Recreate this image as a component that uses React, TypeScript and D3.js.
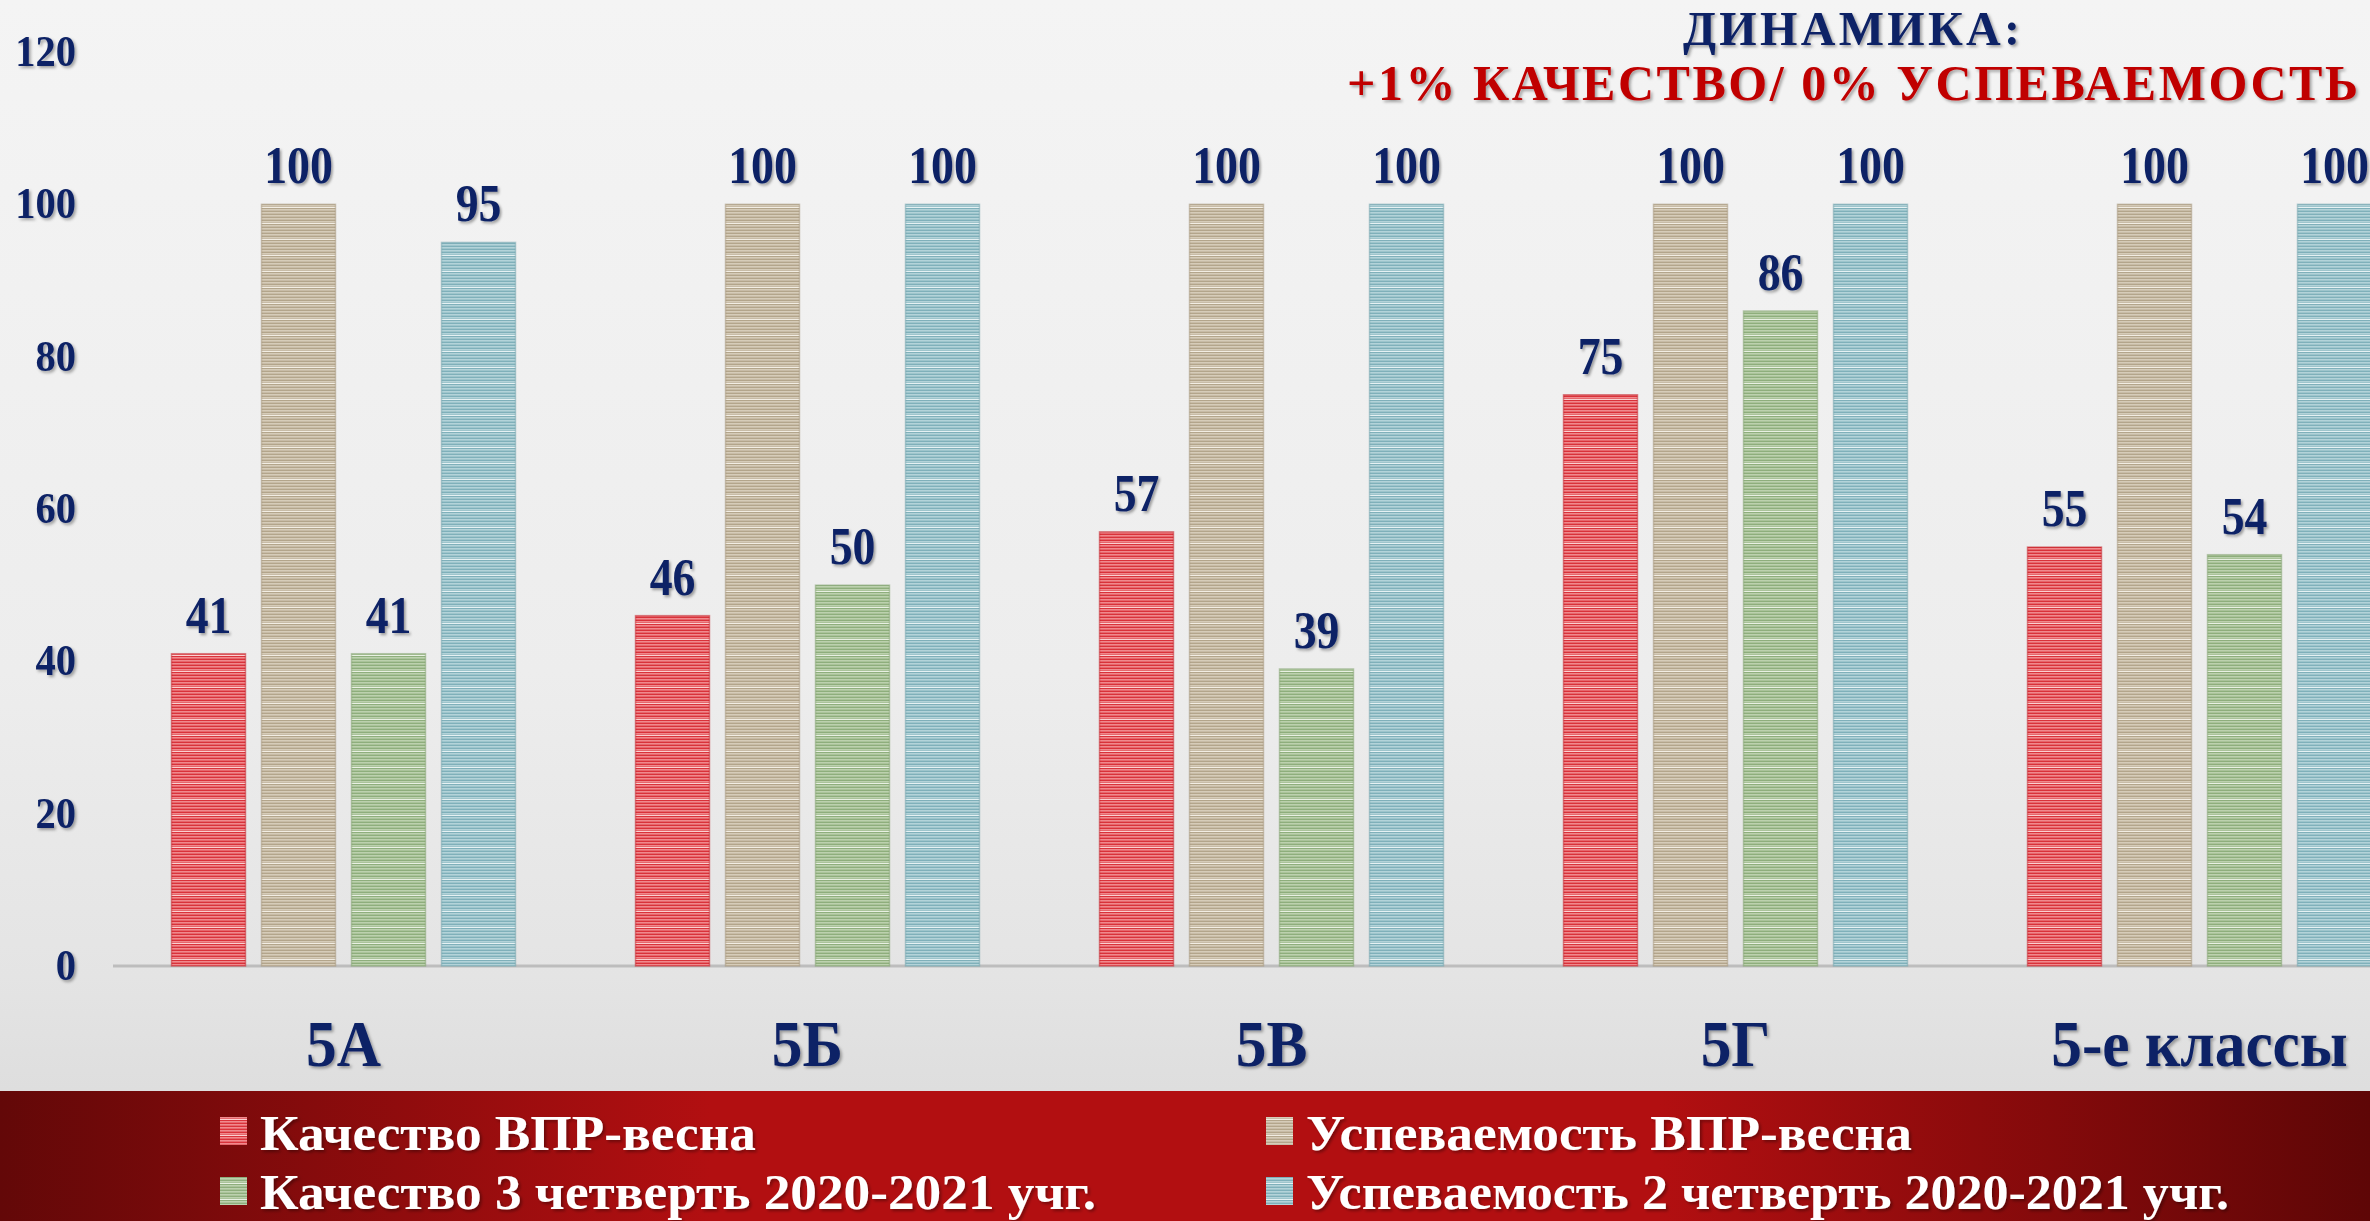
import React from "react";
import * as d3 from "d3";

const categories = ["5А", "5Б", "5В", "5Г", "5-е классы"];
const seriesNames = [
  "Качество ВПР-весна",
  "Успеваемость ВПР-весна",
  "Качество 3 четверть 2020-2021 учг.",
  "Успеваемость 2 четверть 2020-2021 учг.",
];
const kachestvoVPR = [41, 46, 57, 75, 55];
const uspevVPR = [100, 100, 100, 100, 100];
const kachestvo3 = [41, 50, 39, 86, 54];
const uspev2 = [95, 100, 100, 100, 100];
const yTicks = [0, 20, 40, 60, 80, 100, 120];
const titleLine1 = "ДИНАМИКА:";
const titleLine2 = "+1% КАЧЕСТВО/ 0% УСПЕВАЕМОСТЬ";

const seriesValues = [kachestvoVPR, uspevVPR, kachestvo3, uspev2];

// styles
const W = 2370;
const H = 1221;
const NAVY = "#0f2466";
const palettes = [
  { base: "#d9323a", light: "#f0898d", hi: "#fbd0d0", edge: "#c01e26" },
  { base: "#b3a58b", light: "#d6ccb9", hi: "#f2ede3", edge: "#a39478" },
  { base: "#8eae7c", light: "#bcd1ae", hi: "#e8f0e2", edge: "#7f9f6d" },
  { base: "#7fb0ba", light: "#b3d3d9", hi: "#e5f1f3", edge: "#6fa1ac" },
];
// legend layout: [x marker, y marker, text x, baseline, textLength]
const legendLayout = [
  { mx: 220, my: 1117, tx: 260, ty: 1150, tl: 496 },
  { mx: 1266, my: 1117, tx: 1306, ty: 1150, tl: 606 },
  { mx: 220, my: 1177, tx: 260, ty: 1209, tl: 836 },
  { mx: 1266, my: 1177, tx: 1306, ty: 1209, tl: 923 },
];

export default function App() {
  const x0 = d3.scaleBand<string>().domain(categories).range([111.5, 2431.5]).paddingInner(0).paddingOuter(0);
  const x1 = d3
    .scaleBand<number>()
    .domain(d3.range(seriesValues.length))
    .range([60, 404])
    .paddingInner(16 / 90)
    .paddingOuter(0);
  const y = d3.scaleLinear().domain([0, 120]).range([966, 52]);
  const font = "'Liberation Serif', 'Times New Roman', serif";

  return (
    <svg
      width={W}
      height={H}
      viewBox={`0 0 ${W} ${H}`}
      style={{ position: "absolute", left: 0, top: 0, display: "block" }}
      fontFamily={font}
    >
      <defs>
        <linearGradient id="bg" x1="0" y1="0" x2="0" y2="1">
          <stop offset="0" stopColor="#f4f4f4" />
          <stop offset="0.55" stopColor="#ededed" />
          <stop offset="0.8" stopColor="#e4e4e4" />
          <stop offset="1" stopColor="#d7d7d7" />
        </linearGradient>
        <linearGradient id="legendBg" x1="0" y1="0" x2="1" y2="0">
          <stop offset="0" stopColor="#630808" />
          <stop offset="0.3" stopColor="#b20f11" />
          <stop offset="0.7" stopColor="#b20f11" />
          <stop offset="1" stopColor="#5e0606" />
        </linearGradient>
        {palettes.map((p, i) => (
          <pattern key={i} id={`stripe${i}`} patternUnits="userSpaceOnUse" width="16" height="16">
            <rect width="16" height="16" fill={p.base} />
            {[0, 3, 6, 9, 12].map((yy) => (
              <rect key={yy} y={yy + 1} width="16" height="1.6" fill={p.light} />
            ))}
            <rect y={15} width="16" height="1" fill={p.hi} />
          </pattern>
        ))}
        <filter id="shadow" x="-10%" y="-10%" width="130%" height="140%">
          <feDropShadow dx="2" dy="2" stdDeviation="1.5" floodColor="#000" floodOpacity="0.35" />
        </filter>
      </defs>

      <rect width={W} height={H} fill="url(#bg)" />

      {/* title */}
      <text
        x={1683}
        y={45}
        fontSize={48}
        fontWeight="bold"
        fill={NAVY}
        textLength={337}
        lengthAdjust="spacing"
        filter="url(#shadow)"
      >
        {titleLine1}
      </text>
      <text
        x={1347}
        y={100}
        fontSize={50}
        fontWeight="bold"
        fill="#c00000"
        textLength={1011}
        lengthAdjust="spacing"
        filter="url(#shadow)"
      >
        {titleLine2}
      </text>

      {/* y tick labels */}
      {yTicks.map((t) => (
        <text
          key={t}
          transform={`translate(76,${y(t) + 14}) scale(0.92,1)`}
          textAnchor="end"
          fontSize={44}
          fontWeight="bold"
          fill={NAVY}
          filter="url(#shadow)"
        >
          {t}
        </text>
      ))}

      {/* axis line */}
      <line x1={113} x2={W} y1={y(0)} y2={y(0)} stroke="#bdbdbd" strokeWidth={3} />

      {/* bars */}
      {categories.map((c, ci) => (
        <g key={c} transform={`translate(${x0(c)},0)`}>
          {seriesValues.map((vals, si) => {
            const v = vals[ci];
            const bx = x1(si)!;
            const bw = x1.bandwidth();
            return (
              <g key={si}>
                <rect
                  x={bx}
                  y={y(v)}
                  width={bw}
                  height={y(0) - y(v)}
                  fill={`url(#stripe${si})`}
                  stroke={palettes[si].edge}
                  strokeOpacity={0.5}
                  strokeWidth={1.5}
                />
                <text
                  transform={`translate(${bx + bw / 2},${y(v) - 21}) scale(0.88,1)`}
                  textAnchor="middle"
                  fontSize={52}
                  fontWeight="bold"
                  fill={NAVY}
                  filter="url(#shadow)"
                >
                  {v}
                </text>
              </g>
            );
          })}
          <text
            transform={`translate(${x0.bandwidth() / 2},1066) scale(0.93,1)`}
            textAnchor="middle"
            fontSize={66}
            fontWeight="bold"
            fill={NAVY}
            filter="url(#shadow)"
          >
            {c}
          </text>
        </g>
      ))}

      {/* legend */}
      <rect x={0} y={1091} width={W} height={H - 1091} fill="url(#legendBg)" />
      {seriesNames.map((name, i) => {
        const L = legendLayout[i];
        return (
          <g key={name}>
            <rect x={L.mx} y={L.my} width={27} height={28} fill={`url(#stripe${i})`} />
            <text
              x={L.tx}
              y={L.ty}
              fontSize={50}
              fontWeight="bold"
              fill="#ffffff"
              textLength={L.tl}
              lengthAdjust="spacingAndGlyphs"
              filter="url(#shadow)"
            >
              {name}
            </text>
          </g>
        );
      })}
    </svg>
  );
}
